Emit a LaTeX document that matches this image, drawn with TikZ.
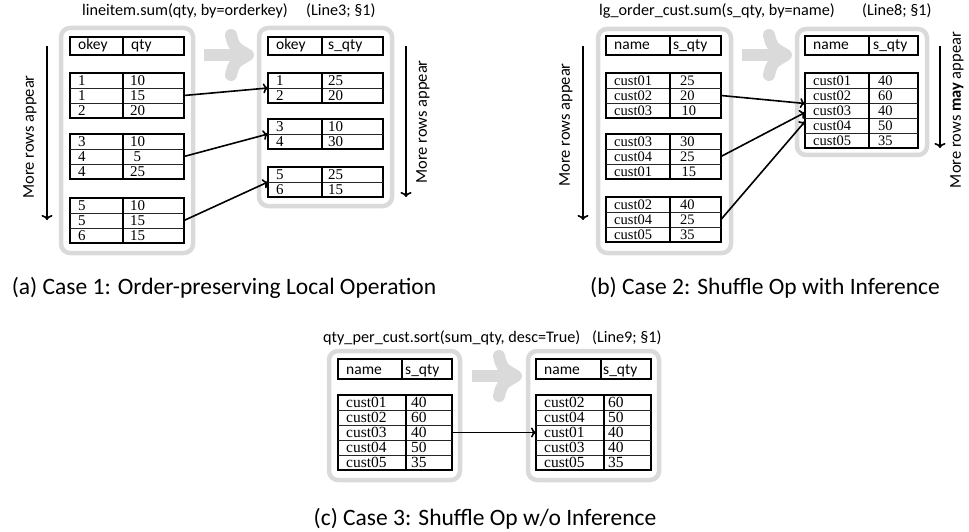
\documentclass[tikz,border=0pt]{standalone}
\usepackage{fontspec}
\setmainfont{Carlito}
\newfontfamily\cellfont{Liberation Serif}
\usetikzlibrary{arrows.meta}

\definecolor{panelgrey}{HTML}{DADADA}

% size of the serif text in the table cells, set per sub-figure
\newcommand\cellpt{15}

\tikzset{
  panel/.style={draw=panelgrey, line width=4.5pt, rounded corners=9pt},
  frame/.style={draw=black, line width=1.7pt, inner sep=0pt, outer sep=0pt},
  rowline/.style={draw=black!85, line width=0.8pt},
  colline/.style={draw=black, line width=1.2pt},
  celltxt/.style={font=\cellfont\fontsize{\cellpt}{\cellpt}\selectfont, inner sep=0pt, anchor=base west},
  hdrtxt/.style={font=\fontsize{15.5}{15.5}\selectfont, inner sep=0pt, anchor=base west},
  titletxt/.style={font=\fontsize{16.2}{16.2}\selectfont, inner sep=0pt, anchor=base west},
  captxt/.style={font=\fontsize{23.5}{23.5}\selectfont, inner sep=0pt, anchor=base},
  sidetxt/.style={font=\fontsize{16.5}{16.5}\selectfont, inner sep=0pt, rotate=90},
  flow/.style={-{To[length=5pt,width=10pt]}, line width=1.6pt},
  timeline/.style={-{To[length=5pt,width=11pt]}, line width=1.6pt},
  bigarrow/.style={draw=panelgrey, line width=12pt},
}

% header row: name, left, top, width, height, divider offset, value pad, label, value
\newcommand\headtab[9]{%
  \node[frame, anchor=north west, minimum width=#4pt, minimum height=#5pt] (#1) at (#2,#3) {};
  \draw[colline] (#2+#6,#3) -- (#2+#6,#3+#5);
  \node[hdrtxt] at (#2+8,#3+#5-5) {#8};
  \node[hdrtxt] at (#2+#6+#7,#3+#5-5) {#9};
}

% data block: name, left, top, width, rows, divider offset, value pad, cells
\newcommand\datatab[8]{%
  \node[frame, anchor=north west, minimum width=#4pt, minimum height=#5*15pt] (#1) at (#2,#3) {};
  \pgfmathtruncatemacro\lastrow{#5-1}
  \foreach \k in {1,...,\lastrow}{\draw[rowline] (#2,#3+\k*15) -- (#2+#4,#3+\k*15);}
  \draw[colline] (#2+#6,#3) -- (#2+#6,#3+#5*15);
  \foreach [count=\i] \a/\b in {#8}{%
    \node[celltxt] at (#2+8,#3+\i*15-2.8) {\a};
    \node[celltxt] at (#2+#6+#7,#3+\i*15-2.8) {\b};
  }
}

% light grey transfer arrow between two panels: left x, centre y
\newcommand\transfer[2]{%
  \draw[bigarrow, line cap=butt] (#1,#2) -- (#1+40,#2);
  \draw[bigarrow, line cap=round, line join=round]
    (#1+27,#2-20) .. controls (#1+30,#2-8) .. (#1+44,#2)
    .. controls (#1+30,#2+8) .. (#1+27,#2+20);
}

\begin{document}
\begin{tikzpicture}[x=1pt, y=-1pt]
\useasboundingbox (0,0) rectangle (969,532);

% ---------------- (a) order-preserving local operation ----------------
\renewcommand\cellpt{15}
\node[titletxt] (ta) at (82,16) {lineitem.sum(qty, by=orderkey)};
\node[titletxt] (la) at (306,16) {(Line3; §1)};

\draw[panel] (61,28) rectangle (193,253);
\draw[panel] (259,28) rectangle (392,206);
\transfer{204}{55}

\headtab{ahl}{70}{37}{114}{18}{53}{8}{okey}{qty}
\datatab{al1}{70}{73}{114}{3}{53}{7}{1/10,1/15,2/20}
\datatab{al2}{70}{134}{114}{3}{53}{7}{3/10,4/\kern3.5pt 5,4/25}
\datatab{al3}{70}{198}{114}{3}{53}{7}{5/10,5/15,6/15}

\headtab{ahr}{268}{37}{115}{18}{54}{6}{okey}{s\_qty}
\datatab{ar1}{268}{73}{115}{2}{54}{6}{1/25,2/20}
\datatab{ar2}{268}{119}{115}{2}{54}{6}{3/10,4/30}
\datatab{ar3}{268}{167}{115}{2}{54}{6}{5/25,6/15}

\draw[flow] (al1.east) -- (ar1.west);
\draw[flow] (al2.east) -- (ar2.west);
\draw[flow] (al3.east) -- (ar3.west);

\coordinate (a0s) at (47,46);  \coordinate (a0e) at (47,220);
\draw[timeline] (a0s) -- (a0e);
\node[sidetxt] (ma) at (30,137) {More rows appear};
\coordinate (a1s) at (406,46); \coordinate (a1e) at (406,197);
\draw[timeline] (a1s) -- (a1e);
\node[sidetxt] (mb) at (423,122) {More rows appear};

\node[captxt] (ca) at (224,294) {(a) Case 1: Order-preserving Local Operation};

% ---------------- (b) shuffle with inference ----------------
\renewcommand\cellpt{14.5}
\node[titletxt] (tb) at (599,16) {lg\_order\_cust.sum(s\_qty, by=name)};
\node[titletxt] (lb) at (862,16) {(Line8; §1)};

\draw[panel] (598,29) rectangle (731,253);
\draw[panel] (797,29) rectangle (927,155);
\transfer{742}{55}

\headtab{bhl}{606}{36}{115}{19}{64}{3}{name}{s\_qty}
\datatab{bl1}{606}{73}{115}{3}{64}{10}{cust01/25,cust02/20,cust03/\kern1.5pt10}
\datatab{bl2}{606}{134}{115}{3}{64}{10}{cust03/30,cust04/25,cust01/\kern1.5pt15}
\datatab{bl3}{606}{197}{115}{3}{64}{10}{cust02/40,cust04/25,cust05/35}

\headtab{bhr}{805}{36}{113}{19}{64}{4}{name}{s\_qty}
\datatab{br}{805}{73}{113}{5}{64}{9}{cust01/40,cust02/60,cust03/40,cust04/50,cust05/35}

\draw[flow] (bl1.east) -- ([yshift=7pt]br.west);
\draw[flow] (bl2.east) -- ([yshift=-2pt]br.west);
\draw[flow] (bl3.east) -- ([yshift=-11pt]br.west);

\coordinate (b0s) at (583,46); \coordinate (b0e) at (583,220);
\draw[timeline] (b0s) -- (b0e);
\node[sidetxt] (mc) at (566,125) {More rows appear};
\coordinate (b1s) at (940,46); \coordinate (b1e) at (940,148);
\draw[timeline] (b1s) -- (b1e);
\node[sidetxt] (md) at (957,110) {More rows \textbf{may} appear};

\node[captxt] (cb) at (765,294) {(b) Case 2: Shuffle Op with Inference};

% ---------------- (c) shuffle without inference ----------------
\renewcommand\cellpt{15.5}
\node[titletxt] (tc) at (323,342) {qty\_per\_cust.sort(sum\_qty, desc=True)};
\node[titletxt] (lc) at (592,342) {(Line9; §1)};

\draw[panel] (329,351) rectangle (460,480);
\draw[panel] (528,351) rectangle (659,480);
\transfer{472}{376}

\headtab{chl}{338}{359}{114}{20}{64}{3}{name}{s\_qty}
\datatab{cl}{338}{395}{114}{5}{68}{5}{cust01/40,cust02/60,cust03/40,cust04/50,cust05/35}

\headtab{chr}{536}{359}{115}{20}{65}{2}{name}{s\_qty}
\datatab{cr}{536}{395}{115}{5}{68}{4}{cust02/60,cust04/50,cust01/40,cust03/40,cust05/35}

\draw[flow] (cl.east) -- (cr.west);

\node[captxt] (cc) at (485,525) {(c) Case 3: Shuffle Op w/o Inference};
\end{tikzpicture}
\end{document}
